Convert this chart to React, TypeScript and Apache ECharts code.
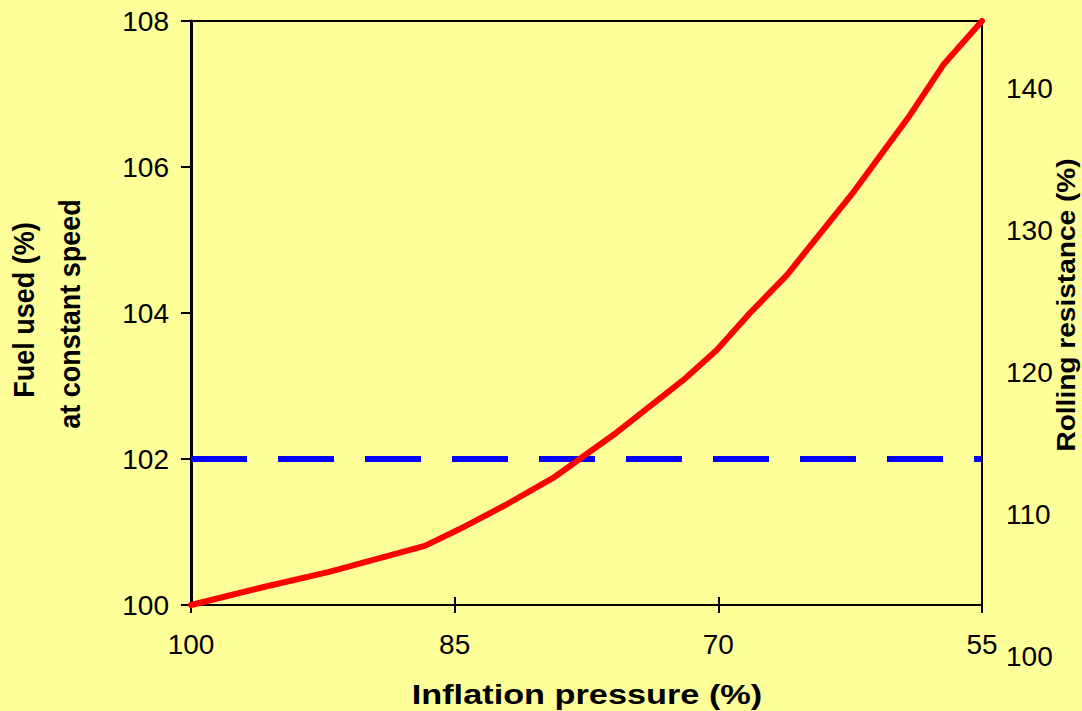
import React, { useEffect, useRef } from "react";
import * as echarts from "echarts";

// Data
const pressure = [100, 95.8, 92.2, 89.0, 86.7, 84.8, 82.1, 79.4, 75.8, 72.0, 70.1, 68.2, 66.1, 62.3, 59.1, 57.2, 55];
const fuelUsed = [100, 100.25, 100.45, 100.66, 100.81, 101.03, 101.37, 101.74, 102.36, 103.08, 103.49, 104.0, 104.52, 105.66, 106.71, 107.4, 108.0];
const thresholdFuel = 102;
const xTicks = [100, 85, 70, 55];
const leftTicks = [100, 102, 104, 106, 108];
const rightTicks = [100, 110, 120, 130, 140];
const rightMax = 145;

const FONT = "Arial, 'Liberation Sans', sans-serif";

export default function App() {
  const ref = useRef<HTMLDivElement>(null);

  useEffect(() => {
    if (!ref.current) return;
    const chart = echarts.init(ref.current, undefined, { renderer: "svg" });

    const xTop = xTicks[0];
    const xSpan = xTicks[0] - xTicks[xTicks.length - 1];
    const xStep = xTicks[0] - xTicks[1];
    const redData = pressure.map((p, i) => [xTop - p, fuelUsed[i]]);
    const blueData = [
      [0, thresholdFuel],
      [xSpan, thresholdFuel],
    ];
    const labelStyle = { color: "#000", fontSize: 28, fontFamily: FONT };

    const option: any = {
      animation: false,
      backgroundColor: "#FFFF99",
      grid: [
        { left: 191, top: 21, width: 791, height: 584, show: true, borderColor: "#000", borderWidth: 2, backgroundColor: "transparent" },
        { left: 191, top: 17, width: 791, height: 639, show: false },
      ],
      xAxis: [
        {
          gridIndex: 0,
          type: "value",
          min: 0,
          max: xSpan,
          interval: xStep,
          position: "bottom",
          axisLine: { show: true, lineStyle: { color: "#000", width: 2 } },
          axisTick: { show: true, inside: false, length: 8, lineStyle: { color: "#000", width: 2 } },
          axisLabel: { ...labelStyle, margin: 25, formatter: (v: number) => String(xTop - v) },
          splitLine: { show: false },
        },
        {
          gridIndex: 0,
          type: "value",
          min: 0,
          max: xSpan,
          interval: xStep,
          position: "bottom",
          axisLine: { show: false },
          axisTick: { show: true, inside: true, length: 8, lineStyle: { color: "#000", width: 2 } },
          axisLabel: { show: false },
          splitLine: { show: false },
        },
        {
          gridIndex: 1,
          type: "value",
          min: 0,
          max: 1,
          show: false,
        },
      ],
      yAxis: [
        {
          gridIndex: 0,
          type: "value",
          min: leftTicks[0],
          max: leftTicks[leftTicks.length - 1],
          interval: leftTicks[1] - leftTicks[0],
          axisLine: { show: true, lineStyle: { color: "#000", width: 3 } },
          axisTick: { show: true, inside: false, length: 10, lineStyle: { color: "#000", width: 2 } },
          axisLabel: { ...labelStyle, margin: 22 },
          splitLine: { show: false },
        },
        {
          gridIndex: 1,
          type: "value",
          position: "right",
          min: rightTicks[0],
          max: rightMax,
          interval: rightTicks[1] - rightTicks[0],
          axisLine: { show: false },
          axisTick: { show: false },
          axisLabel: {
            ...labelStyle,
            margin: 24,
            formatter: (v: number) => (rightTicks.indexOf(v) >= 0 ? String(v) : ""),
          },
          splitLine: { show: false },
        },
      ],
      series: [
        {
          type: "line",
          xAxisIndex: 0,
          yAxisIndex: 0,
          data: blueData,
          symbol: "none",
          lineStyle: { color: "#0000FF", width: 6, type: [56, 31], cap: "butt" },
          z: 2,
        },
        {
          type: "line",
          xAxisIndex: 0,
          yAxisIndex: 0,
          data: redData,
          symbol: "none",
          clip: false,
          lineStyle: { color: "#FF0000", width: 6, cap: "round", join: "round" },
          z: 3,
        },
      ],
      graphic: [
        {
          type: "text",
          x: 587,
          y: 695,
          scaleX: 1.27,
          style: { text: "Inflation pressure (%)", font: `bold 27px ${FONT}`, fill: "#000", align: "center", verticalAlign: "middle" },
        },
        {
          type: "text",
          x: 24,
          y: 310,
          rotation: Math.PI / 2,
          scaleY: 1.1,
          style: { text: "Fuel used (%)", font: `bold 27px ${FONT}`, fill: "#000", align: "center", verticalAlign: "middle" },
        },
        {
          type: "text",
          x: 70,
          y: 314,
          rotation: Math.PI / 2,
          scaleY: 1.1,
          style: { text: "at constant speed", font: `bold 27px ${FONT}`, fill: "#000", align: "center", verticalAlign: "middle" },
        },
        {
          type: "text",
          x: 1066,
          y: 305,
          rotation: Math.PI / 2,
          scaleX: 1.08,
          style: { text: "Rolling resistance (%)", font: `bold 26px ${FONT}`, fill: "#000", align: "center", verticalAlign: "middle" },
        },
      ],
    };

    chart.setOption(option);
    return () => chart.dispose();
  }, []);

  return (
    <div
      ref={ref}
      style={{ position: "fixed", left: 0, top: 0, width: 1082, height: 711 }}
    />
  );
}
